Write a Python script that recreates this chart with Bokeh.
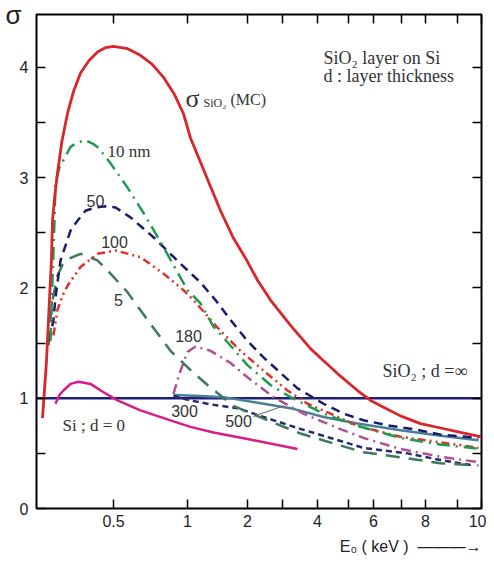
import numpy as np
from bokeh.plotting import figure
from bokeh.models import Range1d, FixedTicker, LinearAxis, Label, Title
from bokeh.embed import file_html
from bokeh.resources import INLINE

# ---- non-uniform energy axis: tick values (keV) and their relative positions on the axis
scale_kev = [0, 0.5, 1, 2, 3, 4, 5, 6, 7, 8, 9, 10]
scale_pos = [0, 77, 151, 211, 246, 281, 312, 337, 365, 389, 421, 445]
x_major = [0.5, 1, 2, 4, 6, 8, 10]
x_minor = [3, 5, 7, 9]
y_major = [0, 1, 2, 3, 4]
y_minor = [0.5, 1.5, 2.5, 3.5]

# ---- data (E0 in keV, sigma)
mc_e = [0.039, 0.065, 0.084, 0.097, 0.104, 0.12, 0.136, 0.165, 0.201, 0.24, 0.286, 0.34, 0.396, 0.45,
        0.5, 0.595, 0.682, 0.76, 0.838, 0.91, 0.973, 1.05, 1.217, 1.383, 1.55, 1.767, 1.967, 2.286,
        2.657, 3.229, 3.8, 4.194, 4.742, 5.36, 5.88, 6.43, 6.96, 7.79, 8.47, 9.125, 10.0]
mc_s = [0.82, 1.34, 1.89, 2.25, 2.61, 2.85, 3.04, 3.33, 3.58, 3.78, 3.95, 4.06, 4.14, 4.18,
        4.19, 4.17, 4.11, 4.03, 3.91, 3.76, 3.58, 3.36, 3.14, 2.92, 2.70, 2.45, 2.27, 2.07,
        1.89, 1.66, 1.45, 1.34, 1.20, 1.07, 0.98, 0.91, 0.84, 0.77, 0.73, 0.69, 0.65]

d10_e = [0.091, 0.104, 0.117, 0.123, 0.149, 0.175, 0.221, 0.266, 0.318, 0.364, 0.403, 0.481, 0.595,
         0.703, 0.838, 1.0, 1.217, 1.433, 1.6, 2.0, 2.657, 3.229, 4.194, 5.36, 6.96, 8.47, 9.96]
d10_s = [1.52, 2.07, 2.61, 2.95, 3.09, 3.16, 3.28, 3.32, 3.34, 3.31, 3.27, 3.13, 2.91,
         2.68, 2.37, 1.98, 1.86, 1.65, 1.55, 1.30, 1.12, 1.01, 0.86, 0.75, 0.64, 0.58, 0.54]

d50_e = [0.084, 0.110, 0.123, 0.156, 0.221, 0.266, 0.318, 0.383, 0.448, 0.514, 0.615, 0.77, 0.953,
         1.217, 1.467, 1.717, 2.0, 2.457, 2.943, 3.429, 4.194, 4.839, 5.6, 6.607, 7.5, 8.47, 9.875]
d50_s = [1.52, 1.71, 1.91, 2.25, 2.52, 2.61, 2.70, 2.73, 2.74, 2.73, 2.64, 2.46, 2.22,
         2.05, 1.89, 1.71, 1.52, 1.37, 1.23, 1.09, 0.95, 0.86, 0.80, 0.75, 0.72, 0.67, 0.64]

d100_e = [0.110, 0.136, 0.169, 0.201, 0.286, 0.396, 0.514, 0.682, 0.838, 0.973, 1.1, 1.5, 1.883,
          2.457, 3.143, 3.714, 4.419, 5.36, 6.96, 8.47, 9.875]
d100_s = [1.57, 1.80, 1.93, 2.02, 2.19, 2.31, 2.34, 2.28, 2.13, 1.98, 1.89, 1.64, 1.43,
          1.25, 1.07, 0.95, 0.86, 0.75, 0.65, 0.60, 0.55]

d5_e = [0.078, 0.091, 0.104, 0.136, 0.169, 0.201, 0.286, 0.396, 0.481, 0.595, 0.73, 0.885, 1.1,
        1.333, 1.767, 2.571, 3.514, 4.516, 5.6, 7.083, 8.47, 9.875]
d5_s = [1.48, 1.71, 1.89, 2.11, 2.21, 2.26, 2.31, 2.25, 2.13, 1.96, 1.71, 1.43, 1.23,
        1.12, 0.93, 0.80, 0.68, 0.59, 0.51, 0.46, 0.41, 0.39]

d180_e = [0.905, 0.932, 0.953, 1.0, 1.133, 1.383, 1.717, 2.0, 2.743, 3.6, 4.645, 5.6, 6.96, 8.47, 9.875]
d180_s = [1.04, 1.16, 1.25, 1.42, 1.47, 1.43, 1.32, 1.19, 1.01, 0.86, 0.73, 0.64, 0.54, 0.47, 0.42]

d300_e = [0.905, 1.05, 1.433, 1.833, 2.457, 3.429, 4.419, 5.6, 7.25, 8.47, 9.667]
d300_s = [1.02, 0.98, 0.94, 0.91, 0.83, 0.73, 0.64, 0.55, 0.50, 0.44, 0.39]

d500_e = [0.905, 1.217, 1.6, 2.286, 3.229, 4.194, 5.36, 6.96, 8.47, 9.875]
d500_s = [1.03, 1.02, 1.01, 0.96, 0.91, 0.83, 0.77, 0.71, 0.66, 0.62]

si_e = [0.123, 0.149, 0.175, 0.221, 0.273, 0.351, 0.416, 0.527, 0.682, 0.905, 1.05, 1.433, 2.0, 3.429]
si_s = [0.95, 1.03, 1.07, 1.13, 1.15, 1.13, 1.07, 0.98, 0.89, 0.79, 0.74, 0.69, 0.63, 0.54]

bulk_e = [0, 10]
bulk_s = [1.0, 1.0]


def tx(k):
    return np.interp(k, scale_kev, scale_pos)


p = figure(width=486, height=564, output_backend="svg", toolbar_location=None,
           x_range=Range1d(0, scale_pos[-1]), y_range=Range1d(0, 4.48),
           x_axis_location=None, y_axis_location=None,
           min_border_left=36, min_border_right=5, min_border_top=14, min_border_bottom=56)
p.grid.visible = False
p.outline_line_color = "black"
p.outline_line_width = 2
p.background_fill_color = "white"
p.border_fill_color = "white"

xt = FixedTicker(ticks=[float(tx(k)) for k in x_major], minor_ticks=[float(tx(k)) for k in x_minor])
yt = FixedTicker(ticks=y_major, minor_ticks=y_minor)

SANS = "Liberation Sans"
SERIF = "Liberation Serif"
TXT = "#333333"


def style_axis(ax, labels=True):
    ax.axis_line_color = None
    ax.major_tick_in = 9
    ax.major_tick_out = 0
    ax.minor_tick_in = 9
    ax.minor_tick_out = 0
    ax.major_tick_line_width = 1.5
    ax.minor_tick_line_width = 1.5
    ax.major_tick_line_color = "black"
    ax.minor_tick_line_color = "black"
    if labels:
        ax.major_label_text_font = SANS
        ax.major_label_text_font_size = "16px"
        ax.major_label_text_color = "#222222"
    else:
        ax.major_label_text_font_size = "0px"
        ax.major_label_standoff = 0


def set_align(ax, val):
    try:
        ax.axis_label_align = val
    except Exception:
        pass


xb = LinearAxis(ticker=xt)
style_axis(xb)
xb.major_label_standoff = 6
xb.major_label_overrides = {float(tx(k)): (str(k)) for k in x_major}
p.add_layout(xb, "below")

# energy-axis title with its arrow, right part of the bottom margin
p.add_layout(Title(text="E₀ ( keV ) \u00a0\u2014\u2014\u2014\u2192", align="right", offset=0, standoff=13,
                   text_font=SANS, text_font_size="16px", text_font_style="normal",
                   text_color="#222222"), "below")

xa = LinearAxis(ticker=xt)
style_axis(xa, labels=False)
p.add_layout(xa, "above")

yl = LinearAxis(ticker=yt)
style_axis(yl)
yl.major_label_standoff = 8
yl.axis_label = "σ"
yl.axis_label_orientation = "horizontal"
yl.axis_label_text_font = SANS
yl.axis_label_text_font_size = "26px"
yl.axis_label_text_font_style = "normal"
yl.axis_label_text_color = "#222222"
yl.axis_label_standoff = -5
set_align(yl, "end")
p.add_layout(yl, "left")

yr = LinearAxis(ticker=yt)
style_axis(yr, labels=False)
p.add_layout(yr, "right")

# ---- curves
p.line(tx(bulk_e), bulk_s, line_color="#1f1f78", line_width=2.5)
p.line(tx(si_e), si_s, line_color="#d81b8a", line_width=2.5)
p.line(tx(d500_e), d500_s, line_color="#4a7f9a", line_width=2.5)
p.line(tx(d300_e), d300_s, line_color="#2a2a72", line_width=2.5, line_dash="6 4")
p.line(tx(d180_e), d180_s, line_color="#b0508f", line_width=2.5, line_dash="10 5 2 5")
p.line(tx(d5_e), d5_s, line_color="#3d7a5c", line_width=2.5, line_dash="14 9")
p.line(tx(d100_e), d100_s, line_color="#e0302a", line_width=2.5, line_dash="8 4 2 4 2 4")
p.line(tx(d50_e), d50_s, line_color="#1a1a6e", line_width=2.5, line_dash="9 6")
p.line(tx(d10_e), d10_s, line_color="#1f9a4f", line_width=2.5, line_dash="13 6 2 6")
p.line(tx(mc_e), mc_s, line_color="#d9262b", line_width=2.8)

# leader line from the "500" label to its curve
lead_e = [2.17, 3.03]
p.line(tx(lead_e), [0.835, float(np.interp(3.03, d500_e, d500_s)) + 0.01],
       line_color="#666666", line_width=1)


def lab(k, y, text, font=SANS, size="16px", align="center", baseline="middle", color=TXT, **kw):
    p.add_layout(Label(x=float(tx(k)), y=y, text=text, text_font=font, text_font_size=size,
                       text_align=align, text_baseline=baseline, text_color=color, **kw))


lab(0.461, 3.24, "10 nm", font=SERIF, size="17px", align="left")
lab(0.383, 2.79, "50")
lab(0.507, 2.42, "100")
lab(0.534, 1.89, "5")
lab(1.017, 1.56, "180")
lab(0.98, 0.88, "300")
lab(1.85, 0.79, "500")

lab(0.986, 3.72, "σ", font=SERIF, size="26px", align="left", baseline="alphabetic")
lab(1.267, 3.675, "SiO₂", font=SERIF, size="12px", align="left", baseline="alphabetic")
lab(1.717, 3.71, "(MC)", font=SERIF, size="16px", align="left", baseline="alphabetic")

lab(4.194, 4.09, "SiO₂ layer  on Si", font=SERIF, size="18px", align="left")
lab(4.194, 3.92, "d : layer thickness", font=SERIF, size="18px", align="left")
lab(6.32, 1.25, "SiO₂ ; d =∞", font=SERIF, size="18px", align="left")
lab(0.169, 0.75, "Si ; d = 0", font=SERIF, size="17px", align="left")

open("out.html", "w").write(file_html(p, INLINE))
